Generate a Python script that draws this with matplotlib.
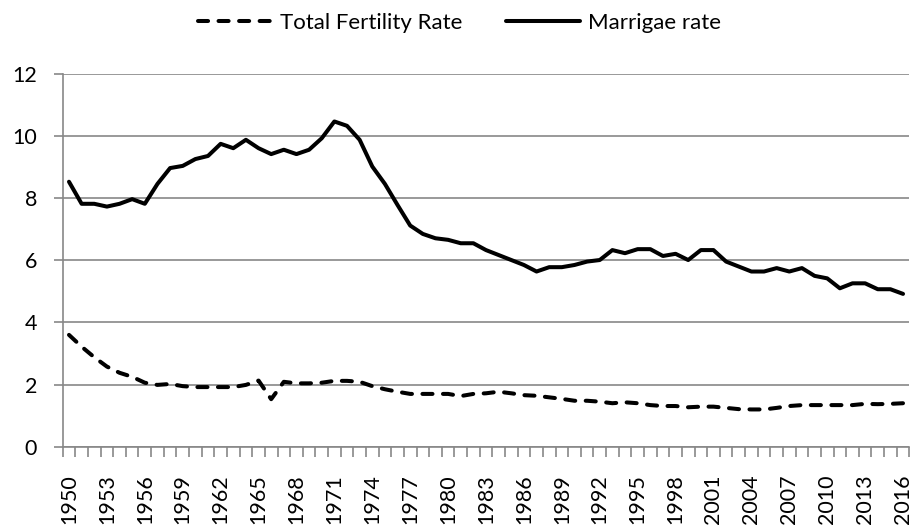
import matplotlib
matplotlib.use("Agg")
import matplotlib.pyplot as plt
from matplotlib.ticker import FixedLocator

plt.rcParams["font.family"] = ["Lato", "DejaVu Sans"]

years = list(range(1950, 2017))

marriage_rate = [
    8.53, 7.82, 7.82, 7.73, 7.82, 7.97, 7.82, 8.46, 8.97, 9.04,
    9.26, 9.36, 9.75, 9.61, 9.88, 9.61, 9.42, 9.56, 9.42, 9.56,
    9.93, 10.47, 10.33, 9.88, 9.02, 8.46, 7.78, 7.12, 6.85, 6.71,
    6.66, 6.55, 6.55, 6.33, 6.17, 6.01, 5.85, 5.64, 5.78, 5.78,
    5.85, 5.96, 6.01, 6.33, 6.23, 6.36, 6.36, 6.14, 6.21, 6.01,
    6.33, 6.33, 5.96, 5.80, 5.64, 5.64, 5.75, 5.64, 5.75, 5.50,
    5.42, 5.10, 5.26, 5.26, 5.07, 5.07, 4.92,
]

fertility_rate = [
    3.60, 3.22, 2.88, 2.58, 2.38, 2.25, 2.06, 1.99, 2.02, 1.95,
    1.92, 1.92, 1.92, 1.92, 1.99, 2.13, 1.53, 2.09, 2.04, 2.04,
    2.06, 2.12, 2.12, 2.09, 1.95, 1.85, 1.77, 1.70, 1.70, 1.70,
    1.70, 1.63, 1.70, 1.72, 1.77, 1.72, 1.66, 1.64, 1.59, 1.54,
    1.48, 1.48, 1.45, 1.40, 1.43, 1.40, 1.34, 1.31, 1.31, 1.27,
    1.29, 1.29, 1.25, 1.21, 1.20, 1.20, 1.25, 1.31, 1.34, 1.34,
    1.34, 1.34, 1.34, 1.38, 1.37, 1.38, 1.40,
]

GRID = "#878787"
FS = 15.5

fig = plt.figure(figsize=(9.19, 5.32), dpi=100)
ax = fig.add_axes([0.0682, 0.1603, 0.9213, 0.7007])

idx = list(range(len(years)))
l1, = ax.plot(idx, fertility_rate, color="black", lw=2.9, ls=(0, (2.5, 2.6)),
              dash_capstyle="round", solid_joinstyle="round", zorder=3)
l2, = ax.plot(idx, marriage_rate, color="black", lw=2.9,
              solid_joinstyle="round", solid_capstyle="round", zorder=3)

ax.set_xlim(-0.5, len(years) - 0.5)
ax.set_ylim(0, 12)
ax.set_yticks(range(0, 13, 2))
ax.grid(axis="y", color=GRID, lw=1.2, zorder=0)

label_idx = idx[::3]
ax.set_xticks(label_idx)
ax.set_xticklabels([str(years[i]) for i in label_idx], rotation=90, fontsize=FS)
ax.xaxis.set_minor_locator(FixedLocator([i - 0.5 for i in range(len(years) + 1)]))
ax.tick_params(axis="x", which="major", length=0, pad=20)
ax.tick_params(axis="x", which="minor", length=7, width=1.2, color=GRID)
ax.tick_params(axis="y", length=6.5, width=1.2, color=GRID, labelsize=FS, pad=12)

for s in ("top", "right"):
    ax.spines[s].set_visible(False)
for s in ("left", "bottom"):
    ax.spines[s].set_color(GRID)
    ax.spines[s].set_linewidth(1.2)

fig.legend([l1, l2], ["Total Fertility Rate", "Marrigae rate"], loc="center",
           bbox_to_anchor=(0.5, 1 - 22.7 / 532), ncol=2, frameon=False,
           fontsize=16, handlelength=3.3, handletextpad=0.35, columnspacing=2.0)

fig.savefig("out.png", dpi=100)
